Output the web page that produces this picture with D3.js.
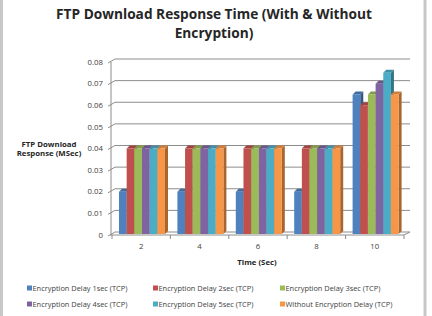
<!DOCTYPE html>
<html lang="en">
<head>
<meta charset="UTF-8">
<title>FTP Download Response Time</title>
<script src="https://cdn.jsdelivr.net/npm/d3@7"></script>
<style>
  body { margin: 0; background: #fff; }
  text { font-family: "Open Sans", "DejaVu Sans", sans-serif; fill: #262626; }
  .title { font-weight: bold; font-size: 13.7px; }
  .tick-label { font-size: 7.8px; fill: #404040; }
  .axis-title { font-weight: bold; font-size: 7.8px; }
  .legend text { font-size: 7.4px; fill: #404040; }
</style>
</head>
<body>
<div class="app"></div>
<script>
  // data
  var categories = ["2", "4", "6", "8", "10"];
  var seriesNames = [
    "Encryption Delay 1sec (TCP)",
    "Encryption Delay 2sec (TCP)",
    "Encryption Delay 3sec (TCP)",
    "Encryption Delay 4sec (TCP)",
    "Encryption Delay 5sec (TCP)",
    "Without Encryption Delay (TCP)"
  ];
  var delay1 = [0.02, 0.02, 0.02, 0.02, 0.065];
  var delay2 = [0.04, 0.04, 0.04, 0.04, 0.06];
  var delay3 = [0.04, 0.04, 0.04, 0.04, 0.065];
  var delay4 = [0.04, 0.04, 0.04, 0.04, 0.07];
  var delay5 = [0.04, 0.04, 0.04, 0.04, 0.075];
  var noDelay = [0.04, 0.04, 0.04, 0.04, 0.065];
  var yTicks = [0, 0.01, 0.02, 0.03, 0.04, 0.05, 0.06, 0.07, 0.08];
  var colors = ["#4F81BD", "#C0504D", "#9BBB59", "#8064A2", "#4BACC6", "#F79646"];

  var seriesValues = [delay1, delay2, delay3, delay4, delay5, noDelay];

  var width = 432, height = 316;
  var svg = d3.select(".app").append("svg")
      .attr("width", width)
      .attr("height", height);

  // outer frame
  svg.append("rect")
      .attr("x", 1.5).attr("y", -5)
      .attr("width", 423.5).attr("height", 330)
      .attr("fill", "#fff")
      .attr("stroke", "#c8c8c8").attr("stroke-width", 3);

  // plot geometry
  var x0 = 112, x1 = 404, depth = 3;
  var x = d3.scaleBand().domain(categories).range([x0, x1]).padding(0);
  var xs = d3.scaleBand().domain(d3.range(seriesNames.length))
      .range([7, 53]).padding(0);
  var y = d3.scaleLinear().domain([0, 0.08]).range([235, 62]);
  var fmt = d3.format(".2f");

  // back wall gridlines + side wall
  var grid = svg.append("g").attr("stroke", "#8c8c8c").attr("fill", "none");
  yTicks.forEach(function (t) {
    if (t > 0) {
      grid.append("line")
          .attr("x1", x0 + depth).attr("x2", x1 + depth * 2)
          .attr("y1", y(t) - depth).attr("y2", y(t) - depth);
    }
    grid.append("line")
        .attr("x1", x0 - 4).attr("x2", x0 + depth)
        .attr("y1", y(t) + 1).attr("y2", y(t) - depth);
  });
  grid.append("line")
      .attr("x1", x0 - 1).attr("x2", x0 - 1)
      .attr("y1", y(0)).attr("y2", y(0.08));

  // floor
  grid.append("path")
      .attr("d", "M" + (x0 - 2) + "," + y(0) + "H" + x1 + "L" + (x1 + depth * 2) + "," + (y(0) - depth) +
                 "H" + (x0 + depth));

  // bars
  function shade(c, k) { return d3.color(c).darker(k).formatHex(); }
  var groups = svg.append("g").selectAll("g")
      .data(categories)
      .enter().append("g")
      .attr("transform", function (d) { return "translate(" + x(d) + ",0)"; });

  groups.each(function (cat, ci) {
    var g = d3.select(this);
    seriesValues.forEach(function (vals, si) {
      var bx = xs(si), bw = xs.bandwidth();
      var top = y(vals[ci]), bot = y(0) - 1;
      // side face
      g.append("path")
          .attr("d", "M" + (bx + bw) + "," + top + "L" + (bx + bw + depth) + "," + (top - depth) +
                     "V" + (bot - depth) + "L" + (bx + bw) + "," + bot + "Z")
          .attr("fill", shade(colors[si], 1.1));
      // top face
      g.append("path")
          .attr("d", "M" + bx + "," + top + "L" + (bx + depth) + "," + (top - depth) +
                     "H" + (bx + bw + depth) + "L" + (bx + bw) + "," + top + "Z")
          .attr("fill", shade(colors[si], 0.5));
      // front face
      g.append("rect")
          .attr("x", bx).attr("y", top)
          .attr("width", bw).attr("height", bot - top)
          .attr("fill", colors[si]);
    });
  });

  // y tick labels
  svg.append("g").selectAll("text")
      .data(yTicks)
      .enter().append("text")
      .attr("class", "tick-label")
      .attr("x", 103)
      .attr("y", function (d) { return y(d); })
      .attr("dy", "0.35em")
      .attr("text-anchor", "end")
      .text(function (d) { return d === 0 ? "0" : fmt(d); });

  // x axis ticks and labels
  var xAxis = svg.append("g")
      .attr("transform", "translate(0," + y(0) + ")")
      .call(d3.axisBottom(x).tickSize(0).tickPadding(8));
  xAxis.select(".domain").remove();
  xAxis.selectAll("text").attr("class", "tick-label").attr("font-family", null).attr("font-size", null);
  xAxis.selectAll(".tick line").remove();
  svg.append("g").selectAll("line")
      .data(categories.concat(["end"]))
      .enter().append("line")
      .attr("x1", function (d) { return d === "end" ? x1 : x(d); })
      .attr("x2", function (d) { return d === "end" ? x1 : x(d); })
      .attr("y1", y(0)).attr("y2", y(0) + 4)
      .attr("stroke", "#8c8c8c");

  // titles
  var title = svg.append("text").attr("class", "title").attr("text-anchor", "middle");
  title.append("tspan").attr("x", 214).attr("y", 18.5).text("FTP Download Response Time (With & Without");
  title.append("tspan").attr("x", 214).attr("y", 37.5).text("Encryption)");

  var yTitle = svg.append("text").attr("class", "axis-title").attr("text-anchor", "middle");
  yTitle.append("tspan").attr("x", 49).attr("y", 147).text("FTP Download");
  yTitle.append("tspan").attr("x", 49).attr("y", 156).text("Response (MSec)");

  svg.append("text").attr("class", "axis-title")
      .attr("x", 257).attr("y", 265)
      .attr("text-anchor", "middle")
      .text("Time (Sec)");

  // legend
  var legendX = [27, 153, 280], legendY = [288, 304];
  var legend = svg.append("g").attr("class", "legend").selectAll("g")
      .data(seriesNames)
      .enter().append("g")
      .attr("transform", function (d, i) {
        return "translate(" + legendX[i % 3] + "," + legendY[Math.floor(i / 3)] + ")";
      });
  legend.append("rect")
      .attr("x", 0).attr("y", -2.5)
      .attr("width", 5).attr("height", 5)
      .attr("fill", function (d, i) { return colors[i]; });
  legend.append("text")
      .attr("x", 5.5).attr("dy", "0.35em")
      .text(function (d) { return d; });
</script>
</body>
</html>
